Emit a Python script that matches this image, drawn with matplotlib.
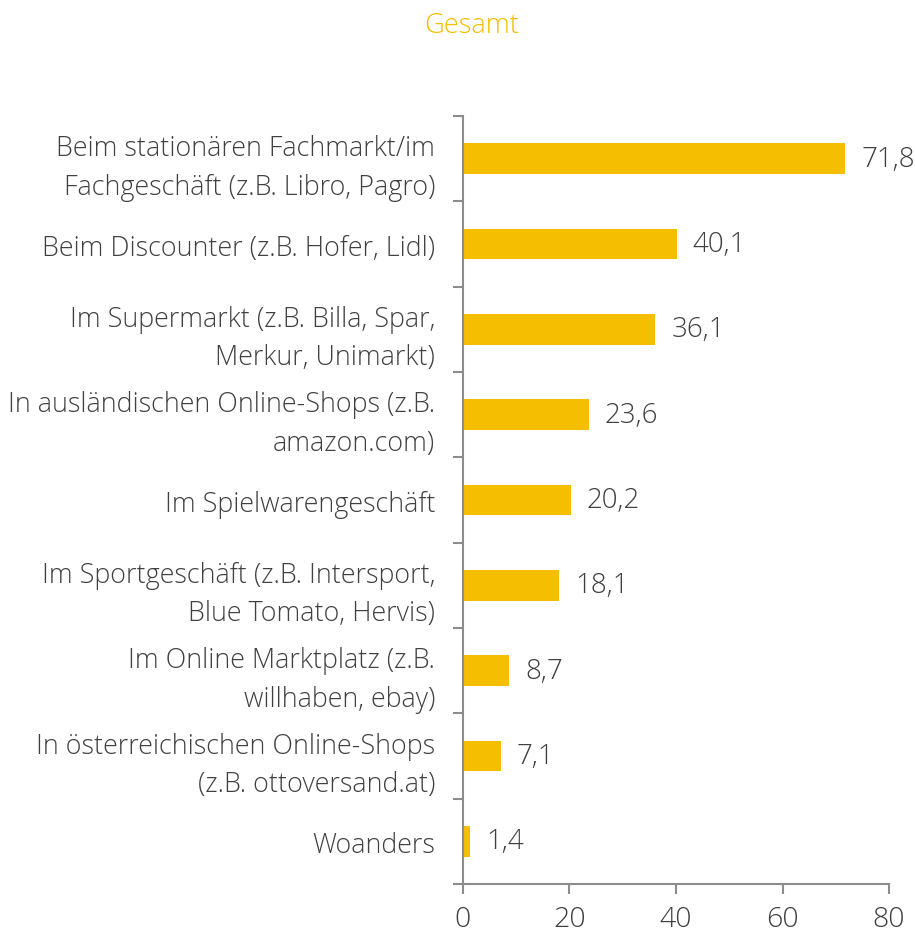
import matplotlib
matplotlib.use("Agg")
import matplotlib.pyplot as plt
import numpy as np

categories = [
    "Beim stationären Fachmarkt/im\nFachgeschäft (z.B. Libro, Pagro)",
    "Beim Discounter (z.B. Hofer, Lidl)",
    "Im Supermarkt (z.B. Billa, Spar,\nMerkur, Unimarkt)",
    "In ausländischen Online-Shops (z.B.\namazon.com)",
    "Im Spielwarengeschäft",
    "Im Sportgeschäft (z.B. Intersport,\nBlue Tomato, Hervis)",
    "Im Online Marktplatz (z.B.\nwillhaben, ebay)",
    "In österreichischen Online-Shops\n(z.B. ottoversand.at)",
    "Woanders",
]
values = [71.8, 40.1, 36.1, 23.6, 20.2, 18.1, 8.7, 7.1, 1.4]
xticks = [0, 20, 40, 60, 80]
title = "Gesamt"

bar_color = "#F5BE00"
text_color = "#404040"
axis_color = "#8C8C8C"

plt.rcParams["font.family"] = ["Open Sans", "DejaVu Sans"]

fig = plt.figure(figsize=(9.15, 9.37), dpi=100)
ax = fig.add_axes([0.506, 0.0555, 0.4656, 0.8196])

y = np.arange(len(categories))
ax.barh(y, values, height=0.36, color=bar_color)
for yi, v in zip(y, values):
    ax.text(v + 3.0, yi, f"{v:.1f}".replace(".", ","), va="center", ha="left",
            fontsize=20, color=text_color, fontweight="light")

ax.set_xlim(0, 80)
ax.set_ylim(len(categories) - 0.5, -0.5)
ax.set_xticks(xticks)
ax.set_xticklabels([str(t) for t in xticks], fontsize=20.5, color=text_color, fontweight="light")
ax.set_yticks(y)
ax.set_yticklabels(categories, fontsize=19.4, color=text_color, fontweight="light",
                   ha="right", linespacing=1.5)
ax.set_yticks(np.arange(-0.5, len(categories) + 0.5, 1), minor=True)
ax.tick_params(axis="y", which="major", length=0, pad=20)
ax.tick_params(axis="y", which="minor", length=7, width=1.5, color=axis_color)
ax.tick_params(axis="x", which="major", length=7, width=1.5, color=axis_color, pad=8)

for s in ["top", "right"]:
    ax.spines[s].set_visible(False)
for s in ["left", "bottom"]:
    ax.spines[s].set_color(axis_color)
    ax.spines[s].set_linewidth(1.5)

fig.text(0.516, 0.972, title, ha="center", va="center", fontsize=19.6,
         color=bar_color, fontweight="light")

fig.savefig("out.png", dpi=100)
